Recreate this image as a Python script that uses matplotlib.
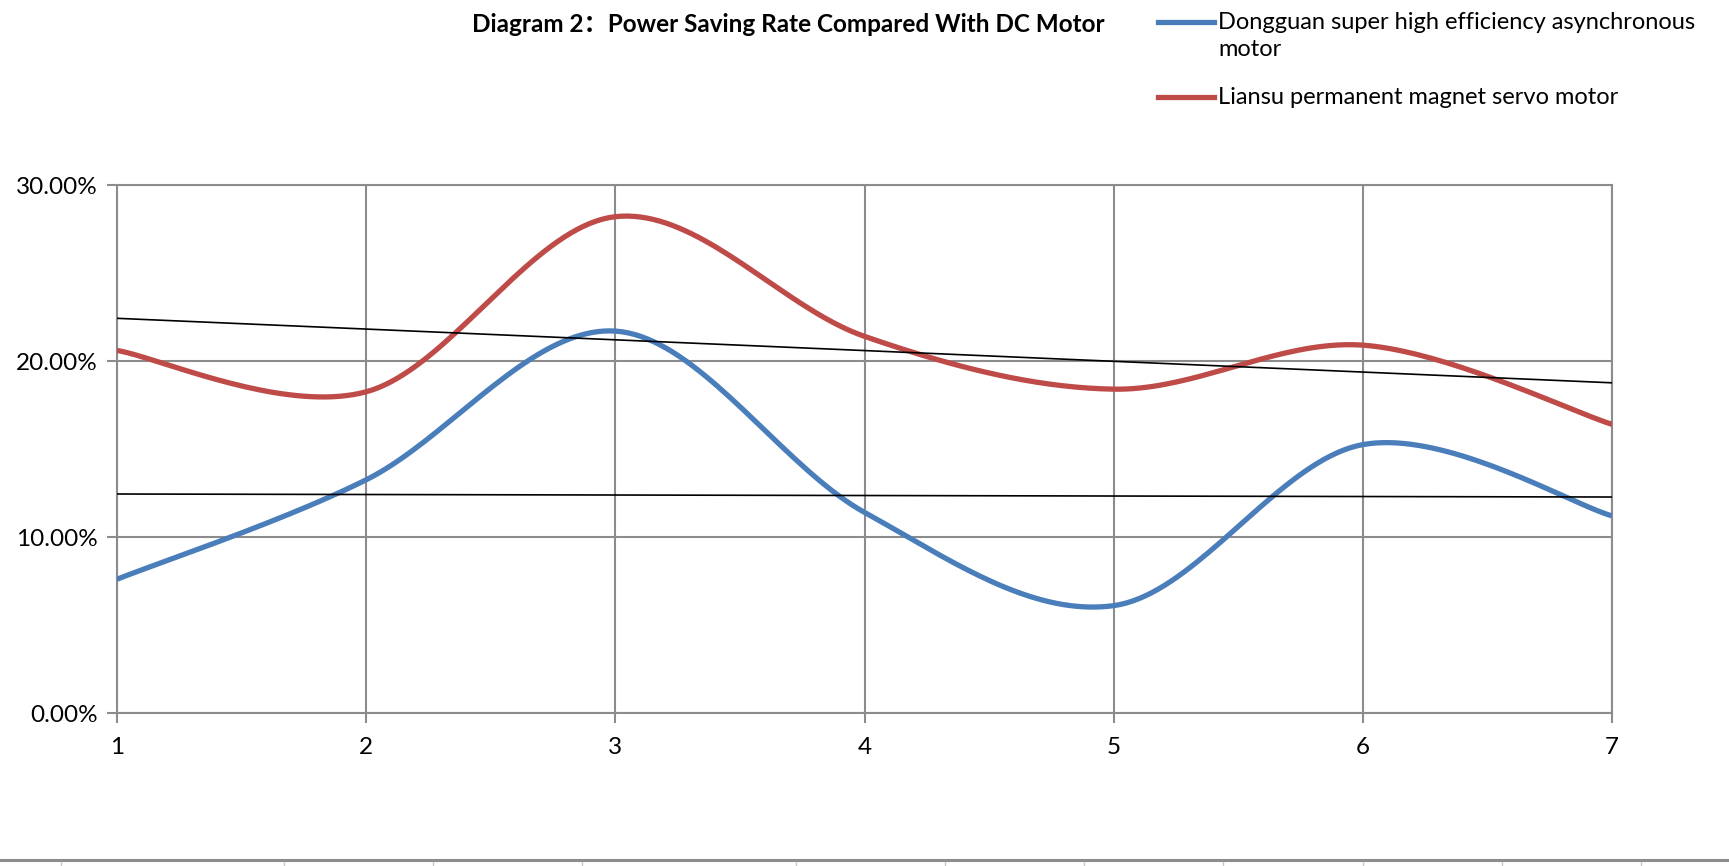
import matplotlib.pyplot as plt
import numpy as np
from matplotlib.lines import Line2D
from matplotlib.ticker import PercentFormatter

plt.rcParams['font.family'] = ['Lato', 'Noto Sans CJK SC', 'DejaVu Sans']

titolo = 'Diagram 2：Power Saving Rate Compared With DC Motor'
nomi = ['Dongguan super high efficiency asynchronous\nmotor',
        'Liansu permanent magnet servo motor']
colori = ['#4A7EBB', '#BE4B48']

prove = [1, 2, 3, 4, 5, 6, 7]
dongguan = [7.6, 13.25, 21.7, 11.4, 6.1, 15.25, 11.2]   # percentuali
liansu = [20.6, 18.25, 28.2, 21.4, 18.4, 20.9, 16.4]


# curva "smussata" come in Excel: bezier con punti di controllo alla Catmull-Rom
def smussa(x, y, n=40):
    p = np.column_stack([x, y]).astype(float)
    p = np.vstack([p[0], p, p[-1]])
    t = np.linspace(0, 1, n)[:, None]
    pezzi = []
    for i in range(1, len(p) - 2):
        p0, p1, p2, p3 = p[i], p[i + 1], p[i - 1], p[i + 2]
        b1 = p0 + (p1 - p2) / 6
        b2 = p1 - (p3 - p0) / 6
        c = ((1 - t) ** 3) * p0 + 3 * ((1 - t) ** 2) * t * b1 + 3 * (1 - t) * t ** 2 * b2 + t ** 3 * p1
        pezzi.append(c)
    c = np.vstack(pezzi)
    return c[:, 0], c[:, 1]


W, H = 1729, 866
fig = plt.figure(figsize=(W / 100, H / 100), dpi=100)
ax = fig.add_axes([117 / W, 1 - 713 / H, (1612 - 117) / W, (713 - 185) / H])

for serie, col in zip([dongguan, liansu], colori):
    xs, ys = smussa(prove, serie)
    ax.plot(xs, ys, color=col, lw=3.8, solid_capstyle='butt', zorder=3)
    # linea di tendenza lineare
    m, q = np.polyfit(prove, serie, 1)
    xx = np.array([prove[0], prove[-1]])
    ax.plot(xx, m * xx + q, color='black', lw=1.2, zorder=4)

ax.set_xlim(1, 7)
ax.set_ylim(0, 30)
ax.set_xticks(prove)
ax.set_yticks([0, 10, 20, 30])
ax.yaxis.set_major_formatter(PercentFormatter(decimals=2))
ax.grid(True, color='#8C8C8C', lw=1.5)
ax.set_axisbelow(True)
for s in ax.spines.values():
    s.set_color('#8C8C8C')
    s.set_linewidth(1.5)
ax.tick_params(axis='both', colors='#8C8C8C', labelcolor='black', width=1.5, length=7, labelsize=17.5)
ax.tick_params(axis='x', pad=10)
ax.tick_params(axis='y', pad=7)

fig.text(788 / W, 1 - 24 / H, titolo, ha='center', va='center', fontsize=17.5, fontweight='bold')

# legenda disegnata a mano in alto a destra
for k, (nome, col, yy) in enumerate(zip(nomi, colori, [22, 97])):
    y = 1 - yy / H
    fig.add_artist(Line2D([1158 / W, 1214 / W], [y, y], color=col, lw=3.8, transform=fig.transFigure))
    if k == 0:
        fig.text(1218 / W, 1 - 12 / H, nome, ha='left', va='top', fontsize=17, linespacing=1.35)
    else:
        fig.text(1218 / W, y, nome, ha='left', va='center', fontsize=17)

# bordo della pagina in basso, con le tacche
fig.add_artist(Line2D([0, 1], [1 - 860 / H] * 2, color='#8C8C8C', lw=2.2, transform=fig.transFigure))
for xt in [61, 284, 433, 582, 796, 945, 1084, 1223, 1363, 1502, 1641]:
    fig.add_artist(Line2D([xt / W] * 2, [1 - 862 / H, 0], color='#C8C8C8', lw=1, transform=fig.transFigure))

fig.savefig('out.png', dpi=100)
